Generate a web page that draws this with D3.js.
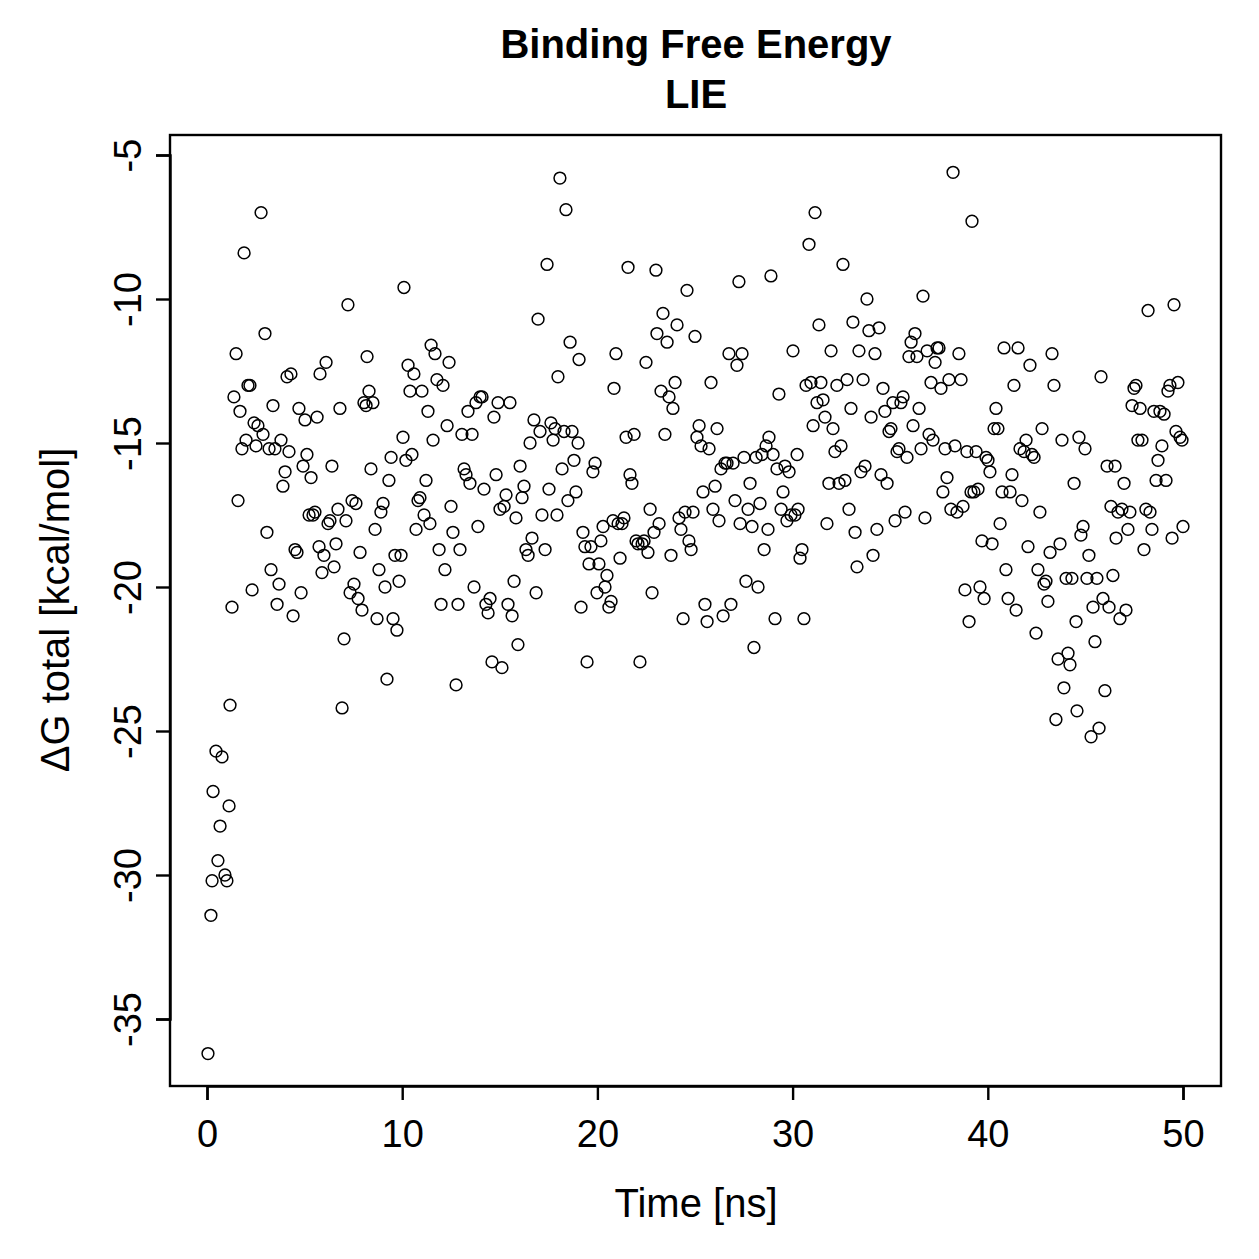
<!DOCTYPE html>
<html><head><meta charset="utf-8">
<script src="https://cdn.jsdelivr.net/npm/d3@7"></script>
<style>body{margin:0;background:#fff;}svg{display:block;font-family:"Liberation Sans",Arial,Helvetica,sans-serif;}</style>
</head><body>
<svg id="c" width="1259" height="1259"></svg>
<script>
const titleLines = ["Binding Free Energy", "LIE"];
const xLabel = "Time [ns]";
const yLabel = "\u0394G total [kcal/mol]";
const xTicks = [0, 10, 20, 30, 40, 50];
const yTicks = [-5, -10, -15, -20, -25, -30, -35];

const timeNs = [
0.05,0.20,0.26,0.46,0.31,0.56,0.67,0.77,0.92,1.02,
1.13,1.18,1.28,1.38,1.49,1.59,1.69,1.79,1.90,2.00,
2.10,2.20,2.31,2.41,2.51,2.61,2.77,2.87,2.97,3.07,
3.18,3.28,3.38,3.48,3.59,3.69,3.79,3.89,4.00,4.10,
4.20,4.30,4.41,4.51,4.61,4.71,4.82,4.92,5.02,5.12,
5.23,5.33,5.43,5.53,5.64,5.74,5.79,5.89,5.99,6.10,
6.20,6.30,6.40,6.51,6.61,6.71,6.81,6.92,7.02,7.12,
7.22,7.33,7.43,7.53,7.63,7.74,7.84,7.94,8.04,8.15,
8.20,8.30,8.40,8.50,8.61,8.71,8.81,8.91,9.02,9.12,
9.22,9.32,9.43,9.53,9.63,9.73,9.84,9.94,10.04,10.09,
10.19,10.30,10.40,10.50,10.60,10.71,10.81,10.91,11.01,11.12,
11.22,11.32,11.42,11.48,11.58,11.68,11.78,11.89,11.99,12.09,
12.19,12.30,12.40,12.50,12.60,12.76,12.86,12.96,13.06,13.17,
13.27,13.37,13.47,13.58,13.68,13.78,13.88,13.99,14.09,14.19,
14.29,14.40,14.50,14.60,14.70,14.81,14.91,15.01,15.11,15.22,
15.32,15.42,15.52,15.63,15.73,15.83,15.93,16.04,16.14,16.24,
16.34,16.45,16.55,16.65,16.75,16.86,16.96,17.06,17.16,17.32,
17.42,17.52,17.62,17.73,17.83,17.93,17.98,18.08,18.19,18.29,
18.39,18.49,18.60,18.70,18.80,18.90,19.01,19.06,19.16,19.26,
19.36,19.47,19.57,19.67,19.77,19.88,19.98,20.08,20.18,20.29,
20.39,20.49,20.59,20.70,20.80,20.85,20.95,21.06,21.16,21.26,
21.36,21.47,21.57,21.67,21.77,21.88,21.98,22.08,22.18,22.29,
22.39,22.49,22.59,22.70,22.80,22.90,23.00,23.05,23.16,23.26,
23.36,23.46,23.57,23.67,23.77,23.87,23.98,24.08,24.18,24.28,
24.39,24.49,24.59,24.69,24.80,24.90,25.00,25.10,25.21,25.31,
25.41,25.51,25.62,25.72,25.82,25.92,26.03,26.13,26.23,26.33,
26.44,26.54,26.64,26.74,26.84,26.95,27.05,27.15,27.25,27.31,
27.41,27.51,27.61,27.72,27.82,27.92,28.02,28.13,28.23,28.33,
28.43,28.54,28.64,28.74,28.79,28.89,29.00,29.10,29.20,29.30,
29.41,29.51,29.61,29.71,29.82,29.92,30.02,30.12,30.23,30.28,
30.38,30.48,30.58,30.69,30.84,30.94,31.05,31.15,31.25,31.35,
31.45,31.56,31.66,31.76,31.86,31.97,32.07,32.17,32.27,32.38,
32.48,32.58,32.68,32.79,32.89,32.99,33.09,33.20,33.30,33.40,
33.50,33.61,33.71,33.81,33.91,34.02,34.12,34.22,34.32,34.43,
34.53,34.63,34.73,34.84,34.94,35.04,35.14,35.25,35.35,35.45,
35.55,35.66,35.76,35.86,35.96,36.07,36.17,36.27,36.37,36.48,
36.58,36.68,36.78,36.89,36.99,37.09,37.19,37.30,37.40,37.50,
37.60,37.70,37.81,37.91,38.01,38.11,38.22,38.32,38.42,38.52,
38.63,38.73,38.83,38.93,39.04,39.14,39.19,39.29,39.40,39.50,
39.60,39.70,39.81,39.91,40.01,40.11,40.22,40.32,40.42,40.52,
40.63,40.73,40.83,40.93,41.04,41.14,41.24,41.34,41.45,41.55,
41.65,41.75,41.86,41.96,42.06,42.16,42.26,42.37,42.47,42.57,
42.67,42.78,42.88,42.98,43.08,43.19,43.29,43.39,43.49,43.60,
43.70,43.80,43.90,44.01,44.11,44.21,44.31,44.42,44.52,44.57,
44.67,44.77,44.88,44.98,45.08,45.18,45.29,45.39,45.49,45.59,
45.70,45.80,45.90,46.00,46.11,46.21,46.31,46.41,46.52,46.57,
46.67,46.77,46.87,46.98,47.08,47.18,47.28,47.39,47.49,47.59,
47.69,47.80,47.90,48.00,48.10,48.21,48.31,48.41,48.51,48.62,
48.72,48.82,48.92,49.03,49.13,49.23,49.33,49.44,49.54,49.64,
49.74,49.85,49.95,50.00
];

const deltaG = [
-36.2,-31.4,-30.2,-25.7,-27.1,-29.5,-28.3,-25.9,-30.0,-30.2,
-27.6,-24.1,-20.7,-13.4,-11.9,-17.0,-13.9,-15.2,-8.4,-14.9,
-13.0,-13.0,-20.1,-14.3,-15.1,-14.4,-7.0,-14.7,-11.2,-18.1,
-15.2,-19.4,-13.7,-15.2,-20.6,-19.9,-14.9,-16.5,-16.0,-12.7,
-15.3,-12.6,-21.0,-18.7,-18.8,-13.8,-20.2,-15.8,-14.2,-15.4,
-17.5,-16.2,-17.5,-17.4,-14.1,-18.6,-12.6,-19.5,-18.9,-12.2,
-17.8,-17.7,-15.8,-19.3,-18.5,-17.3,-13.8,-24.2,-21.8,-17.7,
-10.2,-20.2,-17.0,-19.9,-17.1,-20.4,-18.8,-20.8,-13.6,-13.7,
-12.0,-13.2,-15.9,-13.6,-18.0,-21.1,-19.4,-17.4,-17.1,-20.0,
-23.2,-16.3,-15.5,-21.1,-18.9,-21.5,-19.8,-18.9,-14.8,-9.6,
-15.6,-12.3,-13.2,-15.4,-12.6,-18.0,-17.0,-16.9,-13.2,-17.5,
-16.3,-13.9,-17.8,-11.6,-14.9,-11.9,-12.8,-18.7,-20.6,-13.0,
-19.4,-14.4,-12.2,-17.2,-18.1,-23.4,-20.6,-18.7,-14.7,-15.9,
-16.1,-13.9,-16.4,-14.7,-20.0,-13.6,-17.9,-13.4,-13.4,-16.6,
-20.6,-20.9,-20.4,-22.6,-14.1,-16.1,-13.6,-17.3,-22.8,-17.2,
-16.8,-20.6,-13.6,-21.0,-19.8,-17.6,-22.0,-15.8,-16.9,-16.5,
-18.7,-18.9,-15.0,-18.3,-14.2,-20.2,-10.7,-14.6,-17.5,-18.7,
-8.8,-16.6,-14.3,-14.9,-14.5,-17.5,-12.7,-5.8,-15.9,-14.6,
-6.9,-17.0,-11.5,-14.6,-15.6,-16.7,-15.0,-12.1,-20.7,-18.1,
-18.6,-22.6,-19.2,-18.6,-16.0,-15.7,-20.2,-19.2,-18.4,-17.9,
-20.0,-19.6,-20.7,-20.5,-17.7,-13.1,-11.9,-17.8,-19.0,-17.8,
-17.6,-14.8,-8.9,-16.1,-16.4,-14.7,-18.4,-18.5,-22.6,-18.5,
-18.4,-12.2,-18.8,-17.3,-20.2,-18.1,-9.0,-11.2,-17.8,-13.2,
-10.5,-14.7,-11.5,-13.4,-18.9,-13.8,-12.9,-10.9,-17.6,-18.0,
-21.1,-17.4,-9.7,-18.4,-18.7,-17.4,-11.3,-14.8,-14.4,-15.1,
-16.7,-20.6,-21.2,-15.2,-12.9,-17.3,-16.5,-14.5,-17.7,-15.9,
-21.0,-15.7,-15.7,-11.9,-20.6,-15.7,-17.0,-12.3,-9.4,-17.8,
-11.9,-15.5,-19.8,-17.3,-16.4,-17.9,-22.1,-15.5,-20.0,-17.1,
-15.4,-18.7,-15.1,-18.0,-14.8,-9.2,-15.4,-21.1,-15.9,-13.3,
-17.3,-16.7,-15.8,-17.7,-16.0,-17.5,-11.8,-17.5,-15.4,-17.3,
-19.0,-18.7,-21.1,-13.0,-8.1,-12.9,-14.4,-7.0,-13.6,-10.9,
-12.9,-13.5,-14.1,-17.8,-16.4,-11.8,-14.5,-15.3,-13.0,-16.4,
-15.1,-8.8,-16.3,-12.8,-17.3,-13.8,-10.8,-18.1,-19.3,-11.8,
-16.0,-12.8,-15.8,-10.0,-11.1,-14.1,-18.9,-11.9,-18.0,-11.0,
-16.1,-13.1,-13.9,-16.4,-14.6,-14.5,-13.6,-17.7,-15.3,-15.2,
-13.6,-13.4,-17.4,-15.5,-12.0,-11.5,-14.4,-11.2,-12.0,-13.8,
-15.2,-9.9,-17.6,-11.8,-14.7,-12.9,-14.9,-12.2,-11.7,-11.7,
-13.1,-16.7,-15.2,-16.2,-12.8,-17.3,-5.6,-15.1,-17.4,-11.9,
-12.8,-17.2,-20.1,-15.3,-21.2,-16.7,-7.3,-16.7,-15.3,-16.6,
-20.0,-18.4,-20.4,-15.5,-15.6,-16.0,-18.5,-14.5,-13.8,-14.5,
-17.8,-16.7,-11.7,-19.4,-20.4,-16.7,-16.1,-13.0,-20.8,-11.7,
-15.2,-17.0,-15.3,-14.9,-18.6,-12.3,-15.4,-15.5,-21.6,-19.4,
-17.4,-14.5,-19.9,-19.8,-20.5,-18.8,-11.9,-13.0,-24.6,-22.5,
-18.5,-14.9,-23.5,-19.7,-22.3,-22.7,-19.7,-16.4,-21.2,-24.3,
-14.8,-18.2,-17.9,-15.2,-19.7,-18.9,-25.2,-20.7,-21.9,-19.7,
-24.9,-12.7,-20.4,-23.6,-15.8,-20.7,-17.2,-19.6,-15.8,-18.3,
-17.4,-21.1,-17.3,-16.4,-20.8,-18.0,-17.4,-13.7,-13.1,-13.0,
-14.9,-13.8,-14.9,-18.7,-17.3,-10.4,-17.4,-18.0,-13.9,-16.3,
-15.6,-13.9,-15.1,-14.0,-16.3,-13.2,-13.0,-18.3,-10.2,-14.6,
-12.9,-14.8,-14.9,-17.9
];

const svg = d3.select("#c");
const box = {left: 170, right: 1221, top: 135, bottom: 1086};
const x = d3.scaleLinear().domain([0, 50]).range([207, 1183]);
const y = d3.scaleLinear().domain([-5, -35]).range([155, 1019]);
const FONT = "Liberation Sans, Arial, sans-serif";
const plain = d => String(d);

// points
const pts = timeNs.map((t, i) => ({t, v: deltaG[i]}));
svg.append("g").selectAll("circle").data(pts).join("circle")
  .attr("cx", d => x(d.t)).attr("cy", d => y(d.v)).attr("r", 5.9)
  .attr("fill", "none").attr("stroke", "#000").attr("stroke-width", 1.5);

// box
svg.append("rect").attr("x", box.left).attr("y", box.top)
  .attr("width", box.right - box.left).attr("height", box.bottom - box.top)
  .attr("fill", "none").attr("stroke", "#000").attr("stroke-width", 2.4);

// x axis
const xa = d3.axisBottom(x).tickValues(xTicks).tickSize(14).tickPadding(0).tickFormat(plain);
const gx = svg.append("g").attr("transform", `translate(0,${box.bottom})`).call(xa);
gx.select(".domain").attr("stroke-width", 2.4);
gx.selectAll(".tick line").attr("stroke-width", 2.4);
gx.selectAll("text").attr("font-size", 38).attr("font-family", FONT).attr("fill", "#000")
  .attr("y", 61).attr("dy", null);

// y axis
const ya = d3.axisLeft(y).tickValues(yTicks).tickSize(14).tickPadding(0).tickFormat(plain);
const gy = svg.append("g").attr("transform", `translate(${box.left},0)`).call(ya);
gy.select(".domain").attr("stroke-width", 2.4);
gy.selectAll(".tick line").attr("stroke-width", 2.4);
gy.selectAll("text").attr("font-size", 38).attr("font-family", FONT).attr("fill", "#000")
  .attr("x", null).attr("dy", null)
  .attr("text-anchor", "middle")
  .attr("transform", "translate(-29,0) rotate(-90)");

// axis labels
svg.append("text").attr("x", 696).attr("y", 1217).attr("text-anchor", "middle")
  .attr("font-size", 40).attr("font-family", FONT).text(xLabel);
svg.append("text").attr("transform", "translate(69,610) rotate(-90)").attr("text-anchor", "middle")
  .attr("font-size", 40).attr("font-family", FONT).text(yLabel);

// title
svg.append("g").selectAll("text").data(titleLines).join("text")
  .attr("x", 696).attr("y", (d, i) => 58 + i * 50).attr("text-anchor", "middle")
  .attr("font-size", 40).attr("font-weight", "bold").attr("font-family", FONT).text(d => d);
</script>
</body></html>
